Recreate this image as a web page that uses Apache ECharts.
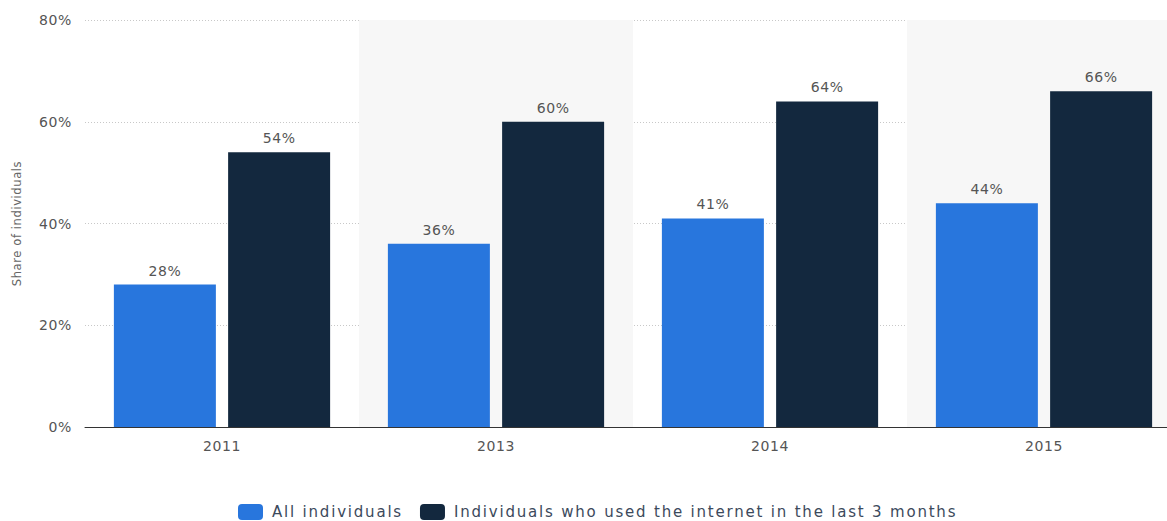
<!DOCTYPE html>
<html>
<head>
<meta charset="utf-8">
<script src="https://cdn.jsdelivr.net/npm/echarts@6/dist/echarts.min.js"></script>
<style>
  html, body { margin: 0; padding: 0; background: #fff; }
  #chart { width: 1167px; height: 521px; }
  #chart text { letter-spacing: 0.6px; }
</style>
</head>
<body>
<div id="chart"></div>
<script>
// Share of individuals using the internet, by year
const years = ['2011', '2013', '2014', '2015'];
const allIndividuals = [28, 36, 41, 44];
const recentUsers = [54, 60, 64, 66];
const seriesNames = ['All individuals', 'Individuals who used the internet in the last 3 months'];
const yTicks = [0, 20, 40, 60, 80];

const font = '"DejaVu Sans", Verdana, sans-serif';

const chart = echarts.init(document.getElementById('chart'), null, { renderer: 'svg' });

const valueLabel = {
  show: true,
  position: 'top',
  distance: 7,
  formatter: p => p.value + '%',
  color: '#555',
  fontSize: 14,
  fontFamily: font
};

// wider tracking for the legend entries
chart.on('finished', () => {
  document.querySelectorAll('#chart text').forEach(t => {
    if (seriesNames.includes(t.textContent)) t.style.letterSpacing = '1.8px';
  });
});

chart.setOption({
  animation: false,
  textStyle: { fontFamily: font },
  grid: { left: 85, top: 20, width: 1096, height: 407, outerBoundsMode: 'none', containLabel: false },
  legend: {
    top: 504,
    left: 238,
    padding: 0,
    itemWidth: 25,
    itemHeight: 16,
    itemGap: 44,
    icon: 'roundRect',
    textStyle: { color: '#3c4a5c', fontSize: 15, fontFamily: font, padding: [0, 0, 0, 4] },
    data: seriesNames
  },
  xAxis: {
    type: 'category',
    data: years,
    axisLine: { lineStyle: { color: '#333', width: 1 } },
    axisTick: { show: false },
    axisLabel: { color: '#555', fontSize: 14, margin: 12, fontFamily: font },
    splitArea: { show: true, areaStyle: { color: ['rgba(255,255,255,0)', '#f7f7f7'] } }
  },
  yAxis: {
    type: 'value',
    min: yTicks[0],
    max: yTicks[yTicks.length - 1],
    interval: 20,
    name: 'Share of individuals',
    nameLocation: 'middle',
    nameGap: 62,
    nameTextStyle: { color: '#666', fontSize: 11.5, fontFamily: font },
    axisLine: { show: false },
    axisTick: { show: false },
    axisLabel: { color: '#555', fontSize: 14, margin: 13, formatter: v => v + '%', fontFamily: font },
    splitLine: { lineStyle: { color: '#c8c8c8', type: [1, 2], width: 1 } }
  },
  series: [
    {
      name: seriesNames[0],
      type: 'bar',
      data: allIndividuals,
      barWidth: 102,
      barGap: '12%',
      itemStyle: { color: '#2876dd' },
      label: valueLabel
    },
    {
      name: seriesNames[1],
      type: 'bar',
      data: recentUsers,
      barWidth: 102,
      barGap: '12%',
      itemStyle: { color: '#13283e' },
      label: valueLabel
    }
  ]
});
</script>
</body>
</html>
